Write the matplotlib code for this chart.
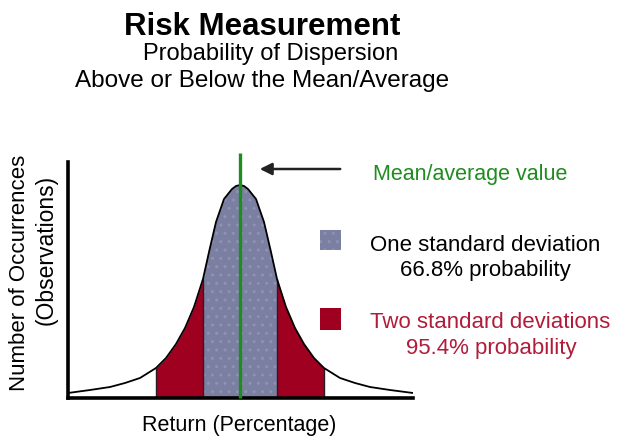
import matplotlib
matplotlib.use("Agg")
import matplotlib.pyplot as plt
import numpy as np

plt.rcParams['font.family'] = ['Liberation Sans', 'DejaVu Sans']

# traced bell curve: offset from the mean (return) and height (occurrences)
offsets = [-172, -150, -130, -115, -100, -84, -74, -64, -55, -46, -37, -31, -24, -16, -8, -4,
           0, 4, 8, 16, 24, 31, 37, 46, 55, 64, 74, 84, 100, 115, 130, 150, 173]
heights = [5, 8, 11, 15, 20, 30, 40, 54, 70, 91, 119, 146, 176, 199, 209, 212,
           213, 212, 209, 199, 176, 146, 119, 91, 70, 54, 40, 30, 20, 15, 11, 8, 5]
mean = 0
one_sd = 37
two_sd = 84

title = "Risk Measurement"
subtitle = ["Probability of Dispersion", "Above or Below the Mean/Average"]
mean_label = "Mean/average value"
one_label = ["One standard deviation", "66.8% probability"]
two_label = ["Two standard deviations", "95.4% probability"]

BLUE = "#7b7fa2"
RED = "#a0001f"
GREEN = "#1f8c1f"
RED_TXT = "#b01c3a"

W, H = 617, 438
fig = plt.figure(figsize=(W / 100, H / 100), dpi=100)

def px(x, y):
    return x / W, 1 - y / H

ax = fig.add_axes([68 / W, 1 - 398 / H, (413 - 68) / W, (398 - 162) / H])
x = np.array(offsets)
h = np.array(heights)

inner = np.abs(x - mean) <= one_sd
left = (x >= mean - two_sd) & (x <= mean - one_sd)
right = (x >= mean + one_sd) & (x <= mean + two_sd)

ax.fill_between(x[left], 0, h[left], color=RED, lw=0)
ax.fill_between(x[right], 0, h[right], color=RED, lw=0)
ax.fill_between(x[inner], 0, h[inner], facecolor=BLUE, edgecolor="#8f92b1",
                hatch="..", lw=0)
for b in [mean - two_sd, mean - one_sd, mean + one_sd, mean + two_sd]:
    ax.vlines(b, 0, h[x == b][0], color="#2a1a2a", lw=1)
ax.plot(x, h, color="black", lw=1.3)

ax.vlines(mean, 0, 245, color=GREEN, lw=2.4, clip_on=False, zorder=5)
ax.annotate("", xy=(17, 229), xytext=(103, 229),
            arrowprops=dict(arrowstyle="-|>", color="#222222", lw=1.8,
                            mutation_scale=18), annotation_clip=False)

ax.set_xlim(-172, 173)
ax.set_ylim(0, 236)
ax.set_xticks([])
ax.set_yticks([])
for s in ["top", "right"]:
    ax.spines[s].set_visible(False)
for s in ["left", "bottom"]:
    ax.spines[s].set_linewidth(2.6)
    ax.spines[s].set_color("black")

# titles
fig.text(*px(262, 35), title, ha="center", va="baseline", fontsize=22.5, fontweight="bold")
fig.text(*px(271, 60), subtitle[0], ha="center", va="baseline", fontsize=17)
fig.text(*px(262, 87), subtitle[1], ha="center", va="baseline", fontsize=17.5)

# legend area
fig.text(*px(470, 180), mean_label, ha="center", va="baseline", fontsize=15.5, color=GREEN)
fig.add_artist(plt.Rectangle(px(320, 250), 21 / W, 20 / H, transform=fig.transFigure,
                             facecolor=BLUE, edgecolor="#8f92b1", hatch="..", lw=0))
fig.add_artist(plt.Rectangle(px(320, 330), 21 / W, 22 / H, transform=fig.transFigure,
                             facecolor=RED, lw=0))
fig.text(*px(485, 251), one_label[0], ha="center", va="baseline", fontsize=16)
fig.text(*px(485, 276), one_label[1], ha="center", va="baseline", fontsize=16)
fig.text(*px(490, 328), two_label[0], ha="center", va="baseline", fontsize=16, color=RED_TXT)
fig.text(*px(491, 354), two_label[1], ha="center", va="baseline", fontsize=16, color=RED_TXT)

# axis labels
fig.text(*px(20, 273), "Number of Occurrences", rotation=90, ha="center", va="center", fontsize=16)
fig.text(*px(46, 250), "(Observations)", rotation=90, ha="center", va="center", fontsize=16.5)
fig.text(*px(239, 426), "Return (Percentage)", ha="center", va="center", fontsize=15.5)

fig.savefig("out.png", dpi=100)
